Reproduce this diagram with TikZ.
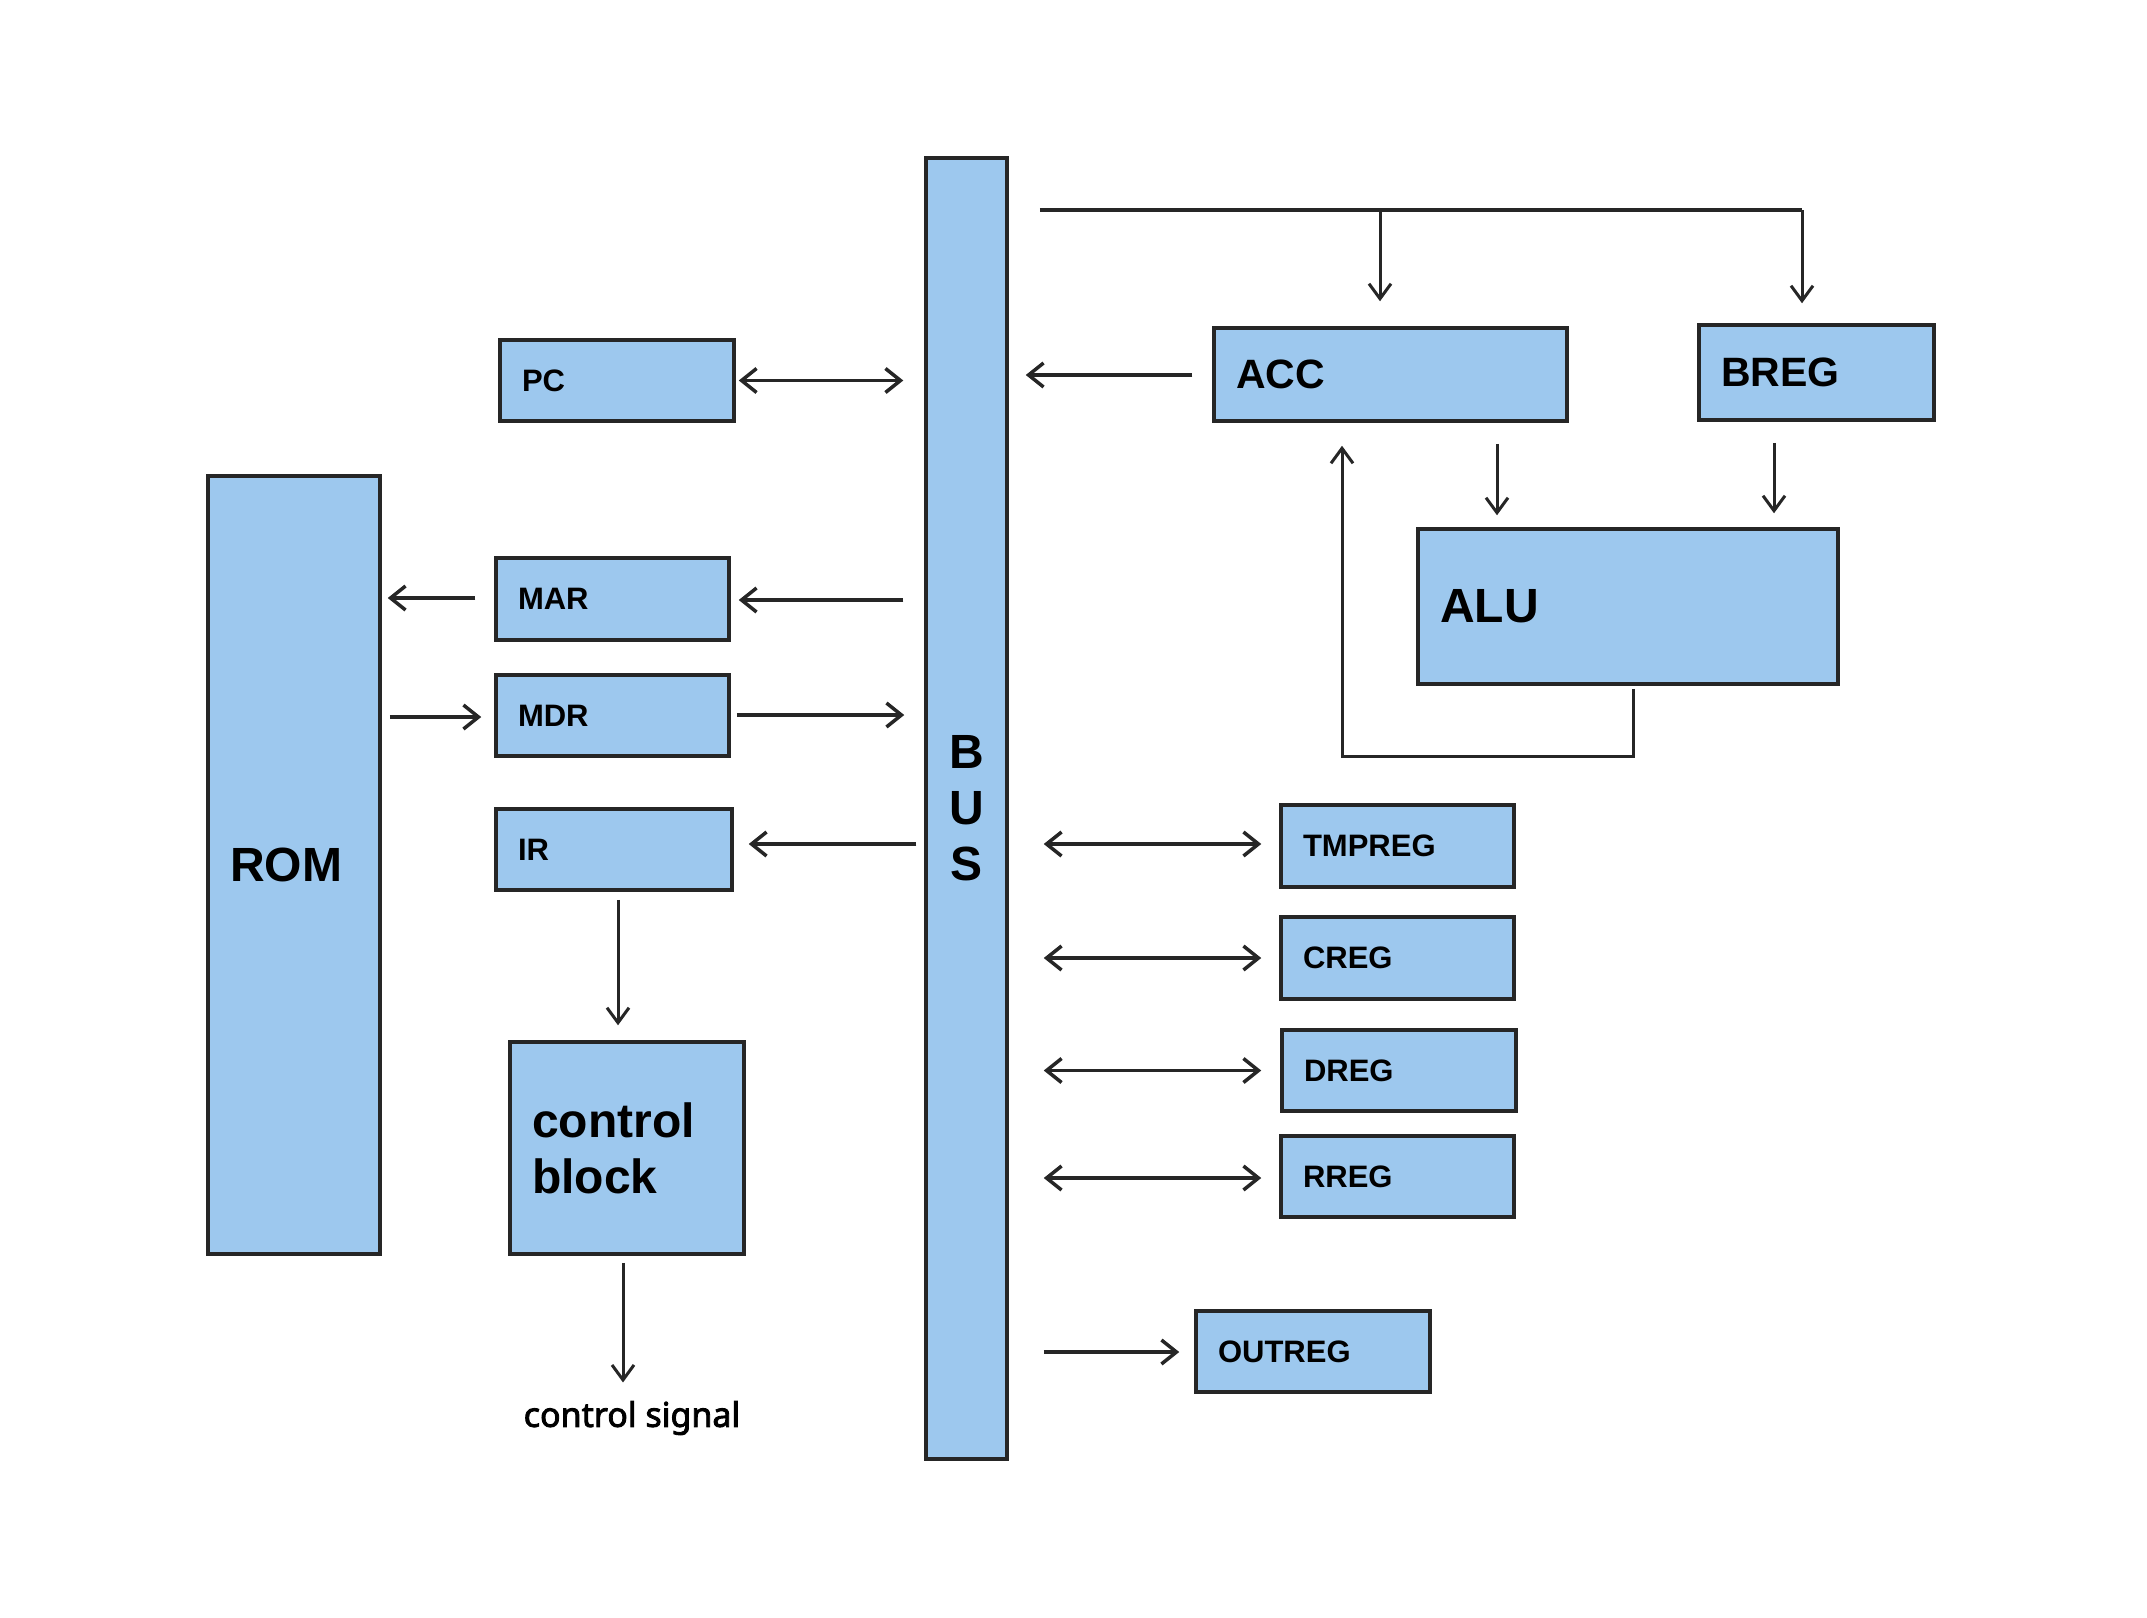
\documentclass[tikz,border=0pt]{standalone}
\usepackage{fontspec}
\setmainfont{Liberation Sans}
\newfontfamily\sigfont[FakeBold=2.5]{Noto Sans}
\usetikzlibrary{arrows.meta,calc}
\definecolor{boxblue}{HTML}{9DC8EE}
\definecolor{linegray}{HTML}{262626}
\begin{document}
\begin{tikzpicture}[x=1pt,y=-1pt,
  box/.style={rectangle, draw=linegray, line width=3.5pt, fill=boxblue,
    inner xsep=22pt, inner ysep=0pt, align=left, anchor=center},
  smalltxt/.style={font=\bfseries\fontsize{31}{36}\selectfont},
  midtxt/.style={font=\bfseries\fontsize{41}{48}\selectfont},
  bigtxt/.style={font=\bfseries\fontsize{48}{56}\selectfont},
  arr/.style={-{Straight Barb[length=15pt,width=24pt]}, line width=3.5pt, draw=linegray},
  biarr/.style={{Straight Barb[length=15pt,width=24pt]}-{Straight Barb[length=15pt,width=24pt]}, line width=3.5pt, draw=linegray},
  varr/.style={-{Straight Barb[length=15pt,width=22pt]}, line width=3pt, draw=linegray},
  wire/.style={line width=4pt, draw=linegray}
]
\useasboundingbox[fill=white] (0,0) rectangle (2147,1617);

% boxes
\node[box, bigtxt, align=center, inner xsep=0pt, text width=81pt, minimum height=1301pt] (bus) at (966.5,808.5) {B\\U\\S};
\node[box, smalltxt, text width=190pt, minimum height=81pt] (pc) at (617,380.5) {PC};
\node[box, bigtxt, text width=128pt, minimum height=778pt] (rom) at (294,865) {ROM};
\node[box, smalltxt, text width=189pt, minimum height=82pt] (mar) at (612.5,599) {MAR};
\node[box, smalltxt, text width=189pt, minimum height=81pt] (mdr) at (612.5,715.5) {MDR};
\node[box, smalltxt, text width=192pt, minimum height=81pt] (ir) at (614,849.5) {IR};
\node[box, bigtxt, text width=190pt, minimum height=212pt] (ctrl) at (627,1148) {control\\block};
\node[font=\sigfont\fontsize{34}{40}\selectfont] (sig) at (632,1418) {control signal};

\node[box, midtxt, text width=309pt, minimum height=93pt] (acc) at (1390.5,374.5) {ACC};
\node[box, midtxt, text width=191pt, minimum height=95pt] (breg) at (1816.5,372.5) {BREG};
\node[box, bigtxt, text width=376pt, minimum height=155pt] (alu) at (1628,606.5) {ALU};

\node[box, smalltxt, text width=189pt, minimum height=82pt] (tmp) at (1397.5,846) {TMPREG};
\node[box, smalltxt, text width=189pt, minimum height=82pt] (creg) at (1397.5,958) {CREG};
\node[box, smalltxt, text width=190pt, minimum height=81pt] (dreg) at (1399,1070.5) {DREG};
\node[box, smalltxt, text width=189pt, minimum height=81pt] (rreg) at (1397.5,1176.5) {RREG};
\node[box, smalltxt, text width=190pt, minimum height=81pt] (out) at (1313,1351.5) {OUTREG};

% left side connectors
\draw[biarr] ($(pc.east)+(3,0)$) -- ($(pc.east -| bus.west)+(-21,0)$);
\draw[arr] ($(mar.east -| bus.west)+(-21,1)$) -- ($(mar.east)+(8,1)$);
\draw[arr] ($(mar.west)+(-19,-1)$) -- ($(mar.west -| rom.east)+(6,-1)$);
\draw[arr] ($(mdr.west -| rom.east)+(8,1.5)$) -- ($(mdr.west)+(-13,1.5)$);
\draw[arr] ($(mdr.east)+(6,-0.5)$) -- ($(mdr.east -| bus.west)+(-20,-0.5)$);
\draw[arr] ($(ir.east -| bus.west)+(-8,-5.5)$) -- ($(ir.east)+(15,-5.5)$);
\draw[varr] ($(ir.south)+(4,8)$) -- ($(ctrl.north)+(-9,-15)$);
\draw[varr] ($(ctrl.south)+(-4,7)$) -- ($(sig.north)+(-9,-15)$);

% ACC / BREG / ALU
\draw[arr] ($(acc.west)+(-20,0.5)$) -- ($(acc.west -| bus.east)+(17,0.5)$);
\coordinate (tl) at ($(bus.north east)+(31,54)$);
\coordinate (tr) at ($(breg.north)+(-14.5,-113)$);
\draw[wire] (tl) -- (tr);
\draw[varr] (tl -| 1380,0) ++(0,-1) -- ($(acc.north)+(-10.5,-25)$);
\draw[varr] (tr) -- ($(breg.north)+(-14.5,-20)$);
\draw[varr] ($(acc.south)+(106.5,21)$) -- ($(alu.north)+(-131,-12)$);
\draw[varr] ($(breg.south)+(-42.5,21)$) -- ($(alu.north)+(146,-14)$);
\draw[varr] ($(alu.south)+(5,3)$) -- ++(0,68) -| ($(acc.south)+(-48.5,23)$);

% right side registers
\draw[biarr] ($(tmp.west -| bus.east)+(35,-2)$) -- ($(tmp.west)+(-18,-2)$);
\draw[biarr] ($(creg.west -| bus.east)+(35,0)$) -- ($(creg.west)+(-18,0)$);
\draw[biarr] ($(dreg.west -| bus.east)+(35,0)$) -- ($(dreg.west)+(-19,0)$);
\draw[biarr] ($(rreg.west -| bus.east)+(35,1.5)$) -- ($(rreg.west)+(-18,1.5)$);
\draw[arr] ($(out.west -| bus.east)+(35,0.5)$) -- ($(out.west)+(-15,0.5)$);
\end{tikzpicture}
\end{document}
